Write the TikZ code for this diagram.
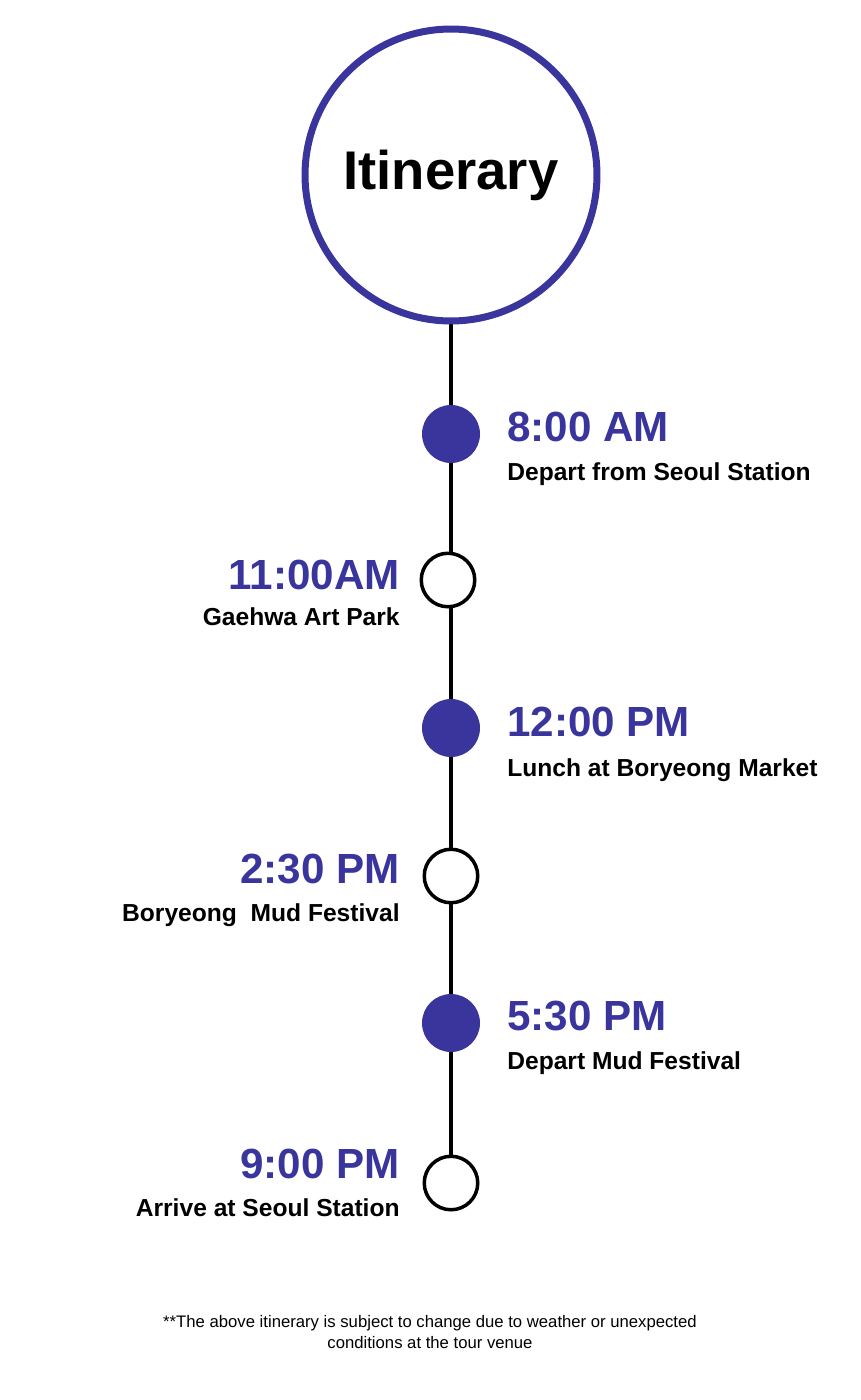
\documentclass[tikz,border=0pt]{standalone}
\usepackage{fontspec}
\setmainfont{Liberation Sans}
\usetikzlibrary{backgrounds}
\definecolor{tourblue}{RGB}{57,53,156}
\begin{document}
\begin{tikzpicture}[x=0.02cm, y=-0.02cm,
  stop/.style={circle,inner sep=0pt,minimum size=1.16cm,fill=tourblue},
  openstop/.style={circle,inner sep=0pt,minimum size=1.07cm,draw=black,line width=0.07cm,fill=white},
  timelbl/.style={inner sep=0pt,text=tourblue,font=\fontsize{24}{28}\selectfont\bfseries},
  placelbl/.style={inner sep=0pt,font=\fontsize{14}{16}\selectfont\bfseries}]
\useasboundingbox (0,0) rectangle (860,1400);
\node[circle,draw=tourblue,line width=0.14cm,fill=white,minimum size=5.84cm,inner sep=0pt,
  font=\fontsize{31}{34}\selectfont\bfseries] (title) at (451,175) {Itinerary};
% stops
\node[stop] (s1) at (451,434) {};
\node[openstop] (s2) at (448,580) {};
\node[stop] (s3) at (451,728) {};
\node[openstop] (s4) at (451,876) {};
\node[stop] (s5) at (451,1023) {};
\node[openstop] (s6) at (451,1183) {};
% timeline spine
\begin{scope}[on background layer]
\draw[line width=0.08cm] (title.south) -- (title.south |- s6.center);
\end{scope}
% labels
\node[timelbl,anchor=base west] (t1) at (507,441) {8:00 AM};
\node[placelbl,anchor=base west] (p1) at (507,480) {Depart from Seoul Station};
\node[timelbl,anchor=base east] (t2) at (400,589) {11:00AM};
\node[placelbl,anchor=base east] (p2) at (400,625) {Gaehwa Art Park};
\node[timelbl,anchor=base west] (t3) at (507,736) {12:00 PM};
\node[placelbl,anchor=base west] (p3) at (507,776) {Lunch at Boryeong Market};
\node[timelbl,anchor=base east] (t4) at (400,883) {2:30 PM};
\node[placelbl,anchor=base east] (p4) at (400,921) {Boryeong\ \ Mud Festival};
\node[timelbl,anchor=base west] (t5) at (507,1030) {5:30 PM};
\node[placelbl,anchor=base west] (p5) at (507,1069) {Depart Mud Festival};
\node[timelbl,anchor=base east] (t6) at (400,1178) {9:00 PM};
\node[placelbl,anchor=base east] (p6) at (400,1216) {Arrive at Seoul Station};
% footnote
\node[align=center,font=\fontsize{9.5}{12.5}\selectfont] (note) at (430,1332)
  {**The above itinerary is subject to change due to weather or unexpected\\conditions at the tour venue};
\end{tikzpicture}
\end{document}
